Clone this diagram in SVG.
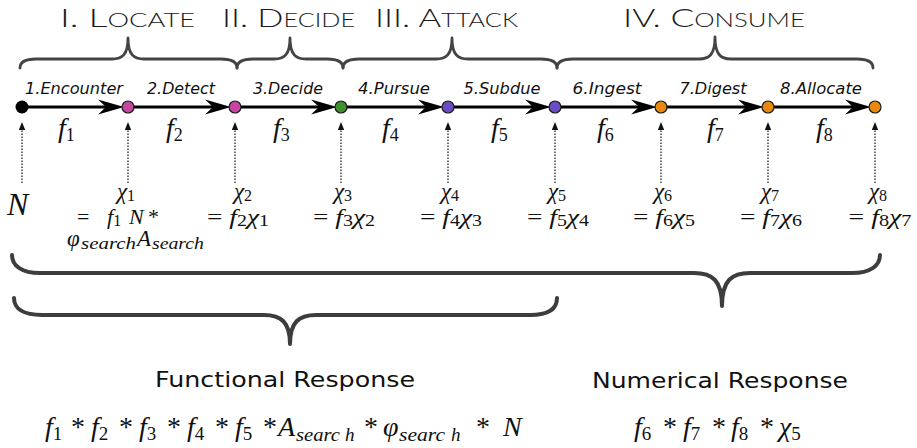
<svg xmlns="http://www.w3.org/2000/svg" width="917" height="448" viewBox="0 0 917 448">
<style>
.ttl{font-family:Lato,"DejaVu Sans",sans-serif;font-weight:300;fill:#1a1a1a}
.big{font-size:26px}
.sm{font-size:19px}
.stage{font-family:"DejaVu Sans",Verdana,sans-serif;font-style:italic;font-size:15.5px;fill:#111;text-anchor:middle}
.m{font-family:"Liberation Serif","Times New Roman",serif;font-style:italic;fill:#111}
.up{font-style:normal}
.resp{font-family:"DejaVu Sans",Verdana,sans-serif;font-size:21px;fill:#111;text-anchor:middle}
.brace{fill:none;stroke:#444;stroke-width:2.8;stroke-linejoin:round;stroke-linecap:round}
.brace2{fill:none;stroke:#3d3d3d;stroke-width:4;stroke-linejoin:round;stroke-linecap:round}
.edge{stroke:#000;stroke-width:3;fill:none}
.dot{stroke:#222;stroke-width:1.3;stroke-dasharray:1.5 1.5;fill:none}
.node{stroke:#1a1a1a;stroke-width:1.2}
.rate{font-size:28px}
.rs{font-size:18px;font-style:normal}
.chi{font-size:23px;text-anchor:middle}
.cs{font-size:16px;font-style:normal}
.eq{font-size:22px;text-anchor:middle}
.fm{font-size:28px}
.fs{font-size:19px}
</style>
<defs>
<marker id="ah" markerUnits="userSpaceOnUse" viewBox="0 0 26 16" refX="8" refY="8" markerWidth="26" markerHeight="16" orient="auto">
<path d="M0,0.5 L26,8 L0,15.5 L8,8 Z" fill="#000"/>
</marker>
<marker id="sh" markerUnits="userSpaceOnUse" viewBox="0 0 8 8" refX="1" refY="4" markerWidth="8" markerHeight="8" orient="auto">
<path d="M0,0.8 L8,4 L0,7.2 Z" fill="#111"/>
</marker>
</defs>

<g id="titles">
<text class="ttl" x="60" y="27" textLength="135" lengthAdjust="spacingAndGlyphs"><tspan class="big">I. L</tspan><tspan class="sm">OCATE</tspan></text>
<text class="ttl" x="222" y="27" textLength="133" lengthAdjust="spacingAndGlyphs"><tspan class="big">II. D</tspan><tspan class="sm">ECIDE</tspan></text>
<text class="ttl" x="375" y="27" textLength="143" lengthAdjust="spacingAndGlyphs"><tspan class="big">III. A</tspan><tspan class="sm">TTACK</tspan></text>
<text class="ttl" x="623" y="27" textLength="182" lengthAdjust="spacingAndGlyphs"><tspan class="big">IV. C</tspan><tspan class="sm">ONSUME</tspan></text>
</g>

<g id="braces">
<path class="brace" d="M20,68 C20,62 26,59 36,59 L112,59 C122,59 128,55 128,38 C128,55 134,59 144,59 L221,59 C231,59 237,62 237,68"/>
<path class="brace" d="M237,68 C237,62 243,59 253,59 L274,59 C284,59 290,55 290,38 C290,55 296,59 306,59 L327,59 C337,59 343,62 343,68"/>
<path class="brace" d="M343,68 C343,62 349,59 359,59 L436,59 C446,59 452,55 452,38 C452,55 458,59 468,59 L541,59 C551,59 557,62 557,68"/>
<path class="brace" d="M557,68 C557,62 563,59 573,59 L699,59 C709,59 715,55 715,37 C715,55 721,59 731,59 L857,59 C867,59 873,62 873,68"/>
<path class="brace2" d="M12,255 C12,266 22,273 40,273 L694,273 C712,273 722,280 722,306 C722,280 732,273 750,273 L852,273 C870,273 880,266 880,255"/>
<path class="brace2" d="M14,298 C14,309 24,315 42,315 L264,315 C281,315 290,322 290,344 C290,322 299,315 316,315 L530,315 C548,315 557,309 557,298"/>
</g>

<g id="connectors">
<line class="edge" x1="22" y1="107" x2="106" y2="107" marker-end="url(#ah)"/>
<line class="edge" x1="128" y1="107" x2="213" y2="107" marker-end="url(#ah)"/>
<line class="edge" x1="235" y1="107" x2="319" y2="107" marker-end="url(#ah)"/>
<line class="edge" x1="341" y1="107" x2="426" y2="107" marker-end="url(#ah)"/>
<line class="edge" x1="448" y1="107" x2="533" y2="107" marker-end="url(#ah)"/>
<line class="edge" x1="555" y1="107" x2="639" y2="107" marker-end="url(#ah)"/>
<line class="edge" x1="661" y1="107" x2="746" y2="107" marker-end="url(#ah)"/>
<line class="edge" x1="768" y1="107" x2="853" y2="107" marker-end="url(#ah)"/>
<line class="dot" x1="22" y1="183" x2="22" y2="129" marker-end="url(#sh)"/>
<line class="dot" x1="128" y1="183" x2="128" y2="129" marker-end="url(#sh)"/>
<line class="dot" x1="235" y1="183" x2="235" y2="129" marker-end="url(#sh)"/>
<line class="dot" x1="341" y1="183" x2="341" y2="129" marker-end="url(#sh)"/>
<line class="dot" x1="448" y1="183" x2="448" y2="129" marker-end="url(#sh)"/>
<line class="dot" x1="555" y1="183" x2="555" y2="129" marker-end="url(#sh)"/>
<line class="dot" x1="661" y1="183" x2="661" y2="129" marker-end="url(#sh)"/>
<line class="dot" x1="768" y1="183" x2="768" y2="129" marker-end="url(#sh)"/>
<line class="dot" x1="875" y1="183" x2="875" y2="129" marker-end="url(#sh)"/>
</g>

<g id="stage-labels">
<text class="stage" x="74" y="94" textLength="98" lengthAdjust="spacingAndGlyphs">1.Encounter</text>
<text class="stage" x="181" y="94" textLength="68" lengthAdjust="spacingAndGlyphs">2.Detect</text>
<text class="stage" x="288" y="94" textLength="70" lengthAdjust="spacingAndGlyphs">3.Decide</text>
<text class="stage" x="394" y="94" textLength="72" lengthAdjust="spacingAndGlyphs">4.Pursue</text>
<text class="stage" x="502" y="94" textLength="77" lengthAdjust="spacingAndGlyphs">5.Subdue</text>
<text class="stage" x="607" y="94" textLength="69" lengthAdjust="spacingAndGlyphs">6.Ingest</text>
<text class="stage" x="713" y="94" textLength="67" lengthAdjust="spacingAndGlyphs">7.Digest</text>
<text class="stage" x="821" y="94" textLength="82" lengthAdjust="spacingAndGlyphs">8.Allocate</text>
</g>

<g id="rates">
<text class="m rate" x="58" y="137">f<tspan class="rs" dy="4">1</tspan></text>
<text class="m rate" x="166" y="137">f<tspan class="rs" dy="4">2</tspan></text>
<text class="m rate" x="273" y="137">f<tspan class="rs" dy="4">3</tspan></text>
<text class="m rate" x="382" y="137">f<tspan class="rs" dy="4">4</tspan></text>
<text class="m rate" x="491" y="137">f<tspan class="rs" dy="4">5</tspan></text>
<text class="m rate" x="597" y="137">f<tspan class="rs" dy="4">6</tspan></text>
<text class="m rate" x="707" y="137">f<tspan class="rs" dy="4">7</tspan></text>
<text class="m rate" x="816" y="137">f<tspan class="rs" dy="4">8</tspan></text>
</g>

<g id="node-0">
<circle cx="22" cy="107" r="6.5" fill="#000"/>
<text class="m" x="7" y="215" font-size="32">N</text>
</g>
<g id="node-1">
<circle class="node" cx="128" cy="107" r="6" fill="#c6479f"/>
<text class="m chi" x="126" y="199">χ<tspan class="cs" dy="2">1</tspan></text>
<text class="m" y="224" font-size="22"><tspan class="up" x="77">=</tspan><tspan x="107">f</tspan><tspan class="cs" dy="2">1</tspan><tspan x="129" dy="-2">N</tspan><tspan class="up" x="148">*</tspan></text>
<text class="m" y="246" font-size="23"><tspan x="67">φ</tspan><tspan font-size="16" dy="3" x="81" textLength="55" lengthAdjust="spacingAndGlyphs">search</tspan><tspan x="137" dy="-3">A</tspan><tspan font-size="16" dy="3" x="152" textLength="52" lengthAdjust="spacingAndGlyphs">search</tspan></text>
</g>
<g id="node-2">
<circle class="node" cx="235" cy="107" r="6" fill="#c6479f"/>
<text class="m chi" x="243" y="199">χ<tspan class="cs" dy="2">2</tspan></text>
<text class="m eq" x="238" y="224" textLength="62" lengthAdjust="spacingAndGlyphs"><tspan class="up">= </tspan>f<tspan class="cs" dy="2">2</tspan><tspan dy="-2">χ</tspan><tspan class="cs" dy="2">1</tspan></text>
</g>
<g id="node-3">
<circle class="node" cx="341" cy="107" r="6" fill="#3f8e2e"/>
<text class="m chi" x="343" y="199">χ<tspan class="cs" dy="2">3</tspan></text>
<text class="m eq" x="344" y="224" textLength="62" lengthAdjust="spacingAndGlyphs"><tspan class="up">= </tspan>f<tspan class="cs" dy="2">3</tspan><tspan dy="-2">χ</tspan><tspan class="cs" dy="2">2</tspan></text>
</g>
<g id="node-4">
<circle class="node" cx="448" cy="107" r="6" fill="#6a4cc2"/>
<text class="m chi" x="450" y="199">χ<tspan class="cs" dy="2">4</tspan></text>
<text class="m eq" x="451" y="224" textLength="62" lengthAdjust="spacingAndGlyphs"><tspan class="up">= </tspan>f<tspan class="cs" dy="2">4</tspan><tspan dy="-2">χ</tspan><tspan class="cs" dy="2">3</tspan></text>
</g>
<g id="node-5">
<circle class="node" cx="555" cy="107" r="6" fill="#6a4cc2"/>
<text class="m chi" x="557" y="199">χ<tspan class="cs" dy="2">5</tspan></text>
<text class="m eq" x="558" y="224" textLength="62" lengthAdjust="spacingAndGlyphs"><tspan class="up">= </tspan>f<tspan class="cs" dy="2">5</tspan><tspan dy="-2">χ</tspan><tspan class="cs" dy="2">4</tspan></text>
</g>
<g id="node-6">
<circle class="node" cx="661" cy="107" r="6" fill="#e8890f"/>
<text class="m chi" x="663" y="199">χ<tspan class="cs" dy="2">6</tspan></text>
<text class="m eq" x="664" y="224" textLength="62" lengthAdjust="spacingAndGlyphs"><tspan class="up">= </tspan>f<tspan class="cs" dy="2">6</tspan><tspan dy="-2">χ</tspan><tspan class="cs" dy="2">5</tspan></text>
</g>
<g id="node-7">
<circle class="node" cx="768" cy="107" r="6" fill="#e8890f"/>
<text class="m chi" x="770" y="199">χ<tspan class="cs" dy="2">7</tspan></text>
<text class="m eq" x="771" y="224" textLength="62" lengthAdjust="spacingAndGlyphs"><tspan class="up">= </tspan>f<tspan class="cs" dy="2">7</tspan><tspan dy="-2">χ</tspan><tspan class="cs" dy="2">6</tspan></text>
</g>
<g id="node-8">
<circle class="node" cx="875" cy="107" r="6" fill="#e8890f"/>
<text class="m chi" x="878" y="199">χ<tspan class="cs" dy="2">8</tspan></text>
<text class="m eq" x="880" y="224" textLength="63" lengthAdjust="spacingAndGlyphs"><tspan class="up">= </tspan>f<tspan class="cs" dy="2">8</tspan><tspan dy="-2">χ</tspan><tspan class="cs" dy="2">7</tspan></text>
</g>

<g id="functional-response">
<text class="resp" x="285" y="387" textLength="260" lengthAdjust="spacingAndGlyphs">Functional Response</text>
<text class="m fm" y="436"><tspan x="45">f</tspan><tspan class="up fs" dy="4">1</tspan><tspan class="up" x="71" dy="-4">*</tspan><tspan x="91">f</tspan><tspan class="up fs" dy="4">2</tspan><tspan class="up" x="119" dy="-4">*</tspan><tspan x="139">f</tspan><tspan class="up fs" dy="4">3</tspan><tspan class="up" x="167" dy="-4">*</tspan><tspan x="187">f</tspan><tspan class="up fs" dy="4">4</tspan><tspan class="up" x="215" dy="-4">*</tspan><tspan x="235">f</tspan><tspan class="up fs" dy="4">5</tspan><tspan class="up" x="263" dy="-4">*</tspan><tspan x="278">A</tspan><tspan class="fs" dy="5" x="296" textLength="44" lengthAdjust="spacingAndGlyphs">searc</tspan><tspan class="fs" x="345">h</tspan><tspan class="up" x="364" dy="-5">*</tspan><tspan x="383">φ</tspan><tspan class="fs" dy="5" x="399" textLength="46" lengthAdjust="spacingAndGlyphs">searc</tspan><tspan class="fs" x="451">h</tspan><tspan class="up" x="476" dy="-5">*</tspan><tspan x="503">N</tspan></text>
</g>

<g id="numerical-response">
<text class="resp" x="720" y="388" textLength="256" lengthAdjust="spacingAndGlyphs">Numerical Response</text>
<text class="m fm" y="436"><tspan x="634">f</tspan><tspan class="up fs" dy="4">6</tspan><tspan class="up" x="663" dy="-4">*</tspan><tspan x="683">f</tspan><tspan class="up fs" dy="4">7</tspan><tspan class="up" x="712" dy="-4">*</tspan><tspan x="731">f</tspan><tspan class="up fs" dy="4">8</tspan><tspan class="up" x="760" dy="-4">*</tspan><tspan x="779">χ</tspan><tspan class="up fs" dy="4">5</tspan></text>
</g>
</svg>
